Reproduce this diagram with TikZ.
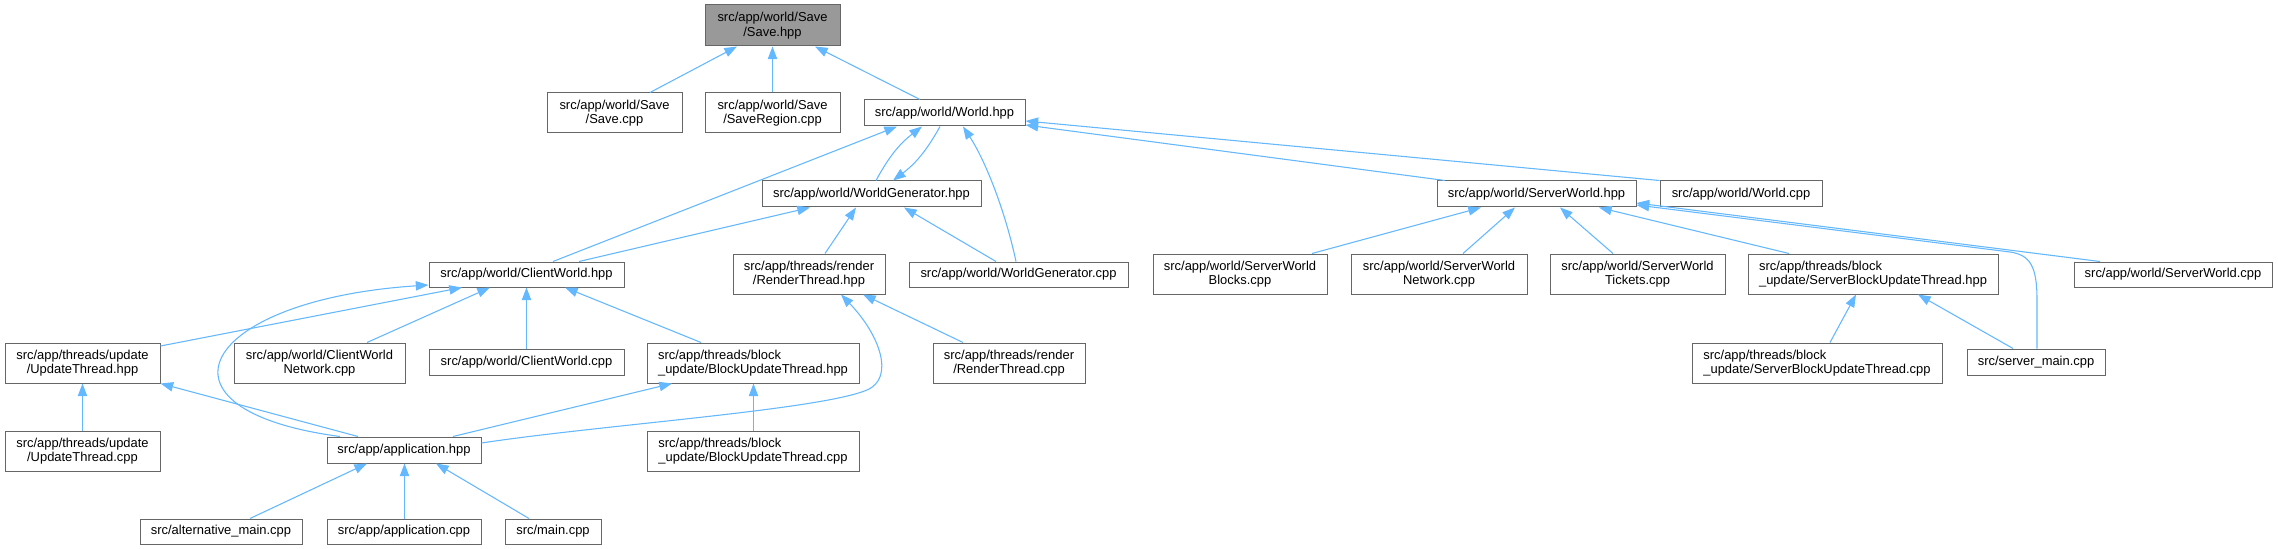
\documentclass[tikz,border=0pt]{standalone}
\usepackage{fontspec}
\setmainfont{Liberation Sans}
\usetikzlibrary{arrows.meta}
\definecolor{edgec}{HTML}{63B8FF}
\definecolor{boxc}{HTML}{666666}
\definecolor{rootc}{HTML}{999999}
\newcommand\bx[7][]{\node[box,#1,minimum width={(#5-#3)*0.75pt},minimum height={(#6-#4)*0.75pt}] (#2) at ({(#3+#5)/2},{(#4+#6)/2}) {#7};}
\begin{document}
\begin{tikzpicture}[x=0.75pt,y=-0.75pt,
  box/.style={draw=boxc,line width=0.75pt,fill=white,inner sep=0pt,align=center,font=\fontsize{9.7}{10.8}\selectfont},
  rootbox/.style={fill=rootc},
  leftbox/.style={align=left},
  edge/.style={draw=edgec,line width=0.8pt,-{Triangle[length=9.5pt,width=7pt]}}]
\fill[white] (0,0) rectangle (2278,549);
\useasboundingbox (0,0) rectangle (2278,549);
% nodes
\bx[rootbox]{save_hpp}{705}{5}{840}{46}{src/app/world/Save\\/Save.hpp}
\bx{save_cpp}{547}{93}{682}{133}{src/app/world/Save\\/Save.cpp}
\bx{saveregion}{705}{93}{840}{133}{src/app/world/Save\\/SaveRegion.cpp}
\bx{world_hpp}{864}{100}{1025}{126}{src/app/world/World.hpp}
\bx{wg_hpp}{762}{181}{981}{207}{src/app/world/WorldGenerator.hpp}
\bx{world_cpp}{1660}{181}{1822}{207}{src/app/world/World.cpp}
\bx{sw_hpp}{1437}{181}{1636}{207}{src/app/world/ServerWorld.hpp}
\bx{cw_hpp}{429}{262}{624}{287}{src/app/world/ClientWorld.hpp}
\bx{rt_hpp}{733}{254}{885}{294}{src/app/threads/render\\/RenderThread.hpp}
\bx{wg_cpp}{909}{262}{1128}{287}{src/app/world/WorldGenerator.cpp}
\bx{swb_cpp}{1153}{254}{1327}{294}{src/app/world/ServerWorld\\Blocks.cpp}
\bx{swn_cpp}{1351}{254}{1527}{294}{src/app/world/ServerWorld\\Network.cpp}
\bx{swt_cpp}{1550}{254}{1725}{294}{src/app/world/ServerWorld\\Tickets.cpp}
\bx[leftbox]{sbut_hpp}{1748}{254}{1998}{294}{src/app/threads/block\\\_update/ServerBlockUpdateThread.hpp}
\bx{sw_cpp}{2074}{262}{2272}{287}{src/app/world/ServerWorld.cpp}
\bx{ut_hpp}{5}{343}{160}{383}{src/app/threads/update\\/UpdateThread.hpp}
\bx{cwn_cpp}{234}{343}{405}{383}{src/app/world/ClientWorld\\Network.cpp}
\bx{cw_cpp}{429}{349}{624}{375}{src/app/world/ClientWorld.cpp}
\bx[leftbox]{but_hpp}{647}{343}{859}{383}{src/app/threads/block\\\_update/BlockUpdateThread.hpp}
\bx{rt_cpp}{933}{343}{1085}{383}{src/app/threads/render\\/RenderThread.cpp}
\bx[leftbox]{sbut_cpp}{1692}{343}{1942}{383}{src/app/threads/block\\\_update/ServerBlockUpdateThread.cpp}
\bx{smain}{1967}{349}{2105}{375}{src/server\_main.cpp}
\bx{ut_cpp}{5}{431}{160}{471}{src/app/threads/update\\/UpdateThread.cpp}
\bx{app_hpp}{327}{437}{481}{463}{src/app/application.hpp}
\bx[leftbox]{but_cpp}{647}{431}{859}{471}{src/app/threads/block\\\_update/BlockUpdateThread.cpp}
\bx{alt_main}{140}{519}{302}{544}{src/alternative\_main.cpp}
\bx{app_cpp}{327}{519}{481}{544}{src/app/application.cpp}
\bx{main_cpp}{505}{519}{601}{544}{src/main.cpp}
% edges
\draw[edge] (save_cpp.north -| 650,0) -- (save_hpp.south -| 737,0);
\draw[edge] (saveregion) -- (save_hpp);
\draw[edge] (world_hpp.north -| 920,0) -- (save_hpp.south -| 815,0);
\draw[edge] (wg_hpp.north -| 876,0) to[bend left=12] (world_hpp.south -| 922,0);
\draw[edge] (world_hpp.south -| 940,0) to[bend left=12] (wg_hpp.north -| 893,0);
\draw[edge] (cw_hpp.north -| 553,0) -- (world_hpp.south -| 897,0);
\draw[edge] (wg_cpp.north -| 1016,0) .. controls (1005,210) and (985,160) .. (world_hpp.south -| 963,0);
\draw[edge] (sw_hpp.north -| 1445,0) -- (world_hpp.east |- 0,125);
\draw[edge] (world_cpp.north west) -- (world_hpp.east |- 0,121);
\draw[edge] (cw_hpp.north -| 579,0) -- (wg_hpp.south -| 810,0);
\draw[edge] (rt_hpp.north -| 825,0) -- (wg_hpp.south -| 856,0);
\draw[edge] (wg_cpp.north -| 996,0) -- (wg_hpp.south -| 904,0);
\draw[edge] (swb_cpp.north -| 1312,0) -- (sw_hpp.south -| 1481,0);
\draw[edge] (swn_cpp.north -| 1463,0) -- (sw_hpp.south -| 1515,0);
\draw[edge] (swt_cpp.north -| 1613,0) -- (sw_hpp.south -| 1560,0);
\draw[edge] (sbut_hpp.north -| 1789,0) -- (sw_hpp.south -| 1599,0);
\draw[edge] (smain.north -| 2037,0) -- (2037,300) .. controls (2037,266) and (2030,255) .. (2010,252) -- (sw_hpp.east |- 0,205);
\draw[edge] (sw_cpp.north -| 2100,0) -- (sw_hpp.east |- 0,203);
\draw[edge] (sbut_cpp.north -| 1830,0) -- (sbut_hpp.south -| 1856,0);
\draw[edge] (smain.north -| 2013,0) -- (sbut_hpp.south -| 1918,0);
\draw[edge] (ut_hpp.east |- 0,346) -- (cw_hpp.south -| 462,0);
\draw[edge] (cwn_cpp.north -| 367,0) -- (cw_hpp.south -| 490,0);
\draw[edge] (cw_cpp) -- (cw_hpp);
\draw[edge] (but_hpp.north -| 701,0) -- (cw_hpp.south -| 565,0);
\draw[edge] (app_hpp.north -| 340,0) .. controls (140,410) and (200,300) .. (cw_hpp.west |- 0,285);
\draw[edge] (ut_cpp) -- (ut_hpp);
\draw[edge] (app_hpp.north -| 358,0) -- (ut_hpp.south east);
\draw[edge] (app_hpp.north -| 453,0) -- (but_hpp.south -| 672,0);
\draw[edge] (app_hpp.east |- 0,443) .. controls (600,425) and (820,410) .. (867,390) .. controls (895,378) and (880,335) .. (rt_hpp.south -| 841,0);
\draw[edge] (but_cpp.north -| 753.5,0) -- (but_hpp.south -| 753.5,0);
\draw[edge] (alt_main.north -| 250,0) -- (app_hpp.south -| 367,0);
\draw[edge] (app_cpp.north -| 404.5,0) -- (app_hpp.south -| 404.5,0);
\draw[edge] (main_cpp.north -| 529,0) -- (app_hpp.south -| 436,0);
\draw[edge] (rt_cpp.north -| 963,0) -- (rt_hpp.south -| 863,0);
\end{tikzpicture}
\end{document}
